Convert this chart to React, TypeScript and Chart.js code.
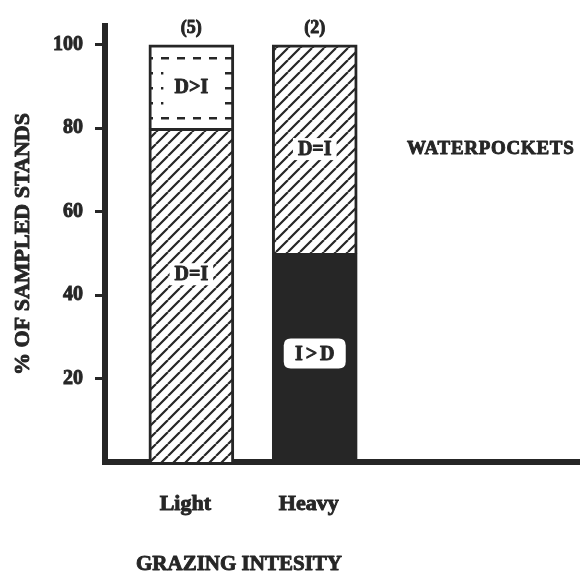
import { useEffect, useRef } from 'react';
import { Chart, registerables } from 'chart.js';

Chart.register(...registerables);

// ---- data ----
const categories = ['Light', 'Heavy'];
const iGreaterD = [0, 50];
const dEqualsI = [80, 50];
const dGreaterI = [20, 0];
const sampleCounts = [5, 2];
const yTicks = [20, 40, 60, 80, 100];
const panelLabel = 'WATERPOCKETS';
const xTitle = 'GRAZING INTESITY';
const yTitle = '% OF SAMPLED STANDS';
// value (in %) at which each segment's label sits
const iGreaterDLabelAt = [null, 26];
const dEqualsILabelAt = [45, 75];
const dGreaterILabelAt = [90, null];

const INK = '#262626';
const SERIF = '"Liberation Serif", "Times New Roman", serif';
const STROKE = 0.9;

function makeHatch(ctx: CanvasRenderingContext2D) {
  const s = 12;
  const c = document.createElement('canvas');
  c.width = s;
  c.height = s;
  const g = c.getContext('2d')!;
  g.fillStyle = '#fff';
  g.fillRect(0, 0, s, s);
  g.strokeStyle = INK;
  g.lineWidth = 2.2;
  g.beginPath();
  for (const k of [-s, 0, s]) {
    g.moveTo(k, s);
    g.lineTo(k + s, 0);
  }
  g.stroke();
  return ctx.createPattern(c, 'repeat')!;
}

function makeDash(ctx: CanvasRenderingContext2D) {
  const c = document.createElement('canvas');
  c.width = 16;
  c.height = 15;
  const g = c.getContext('2d')!;
  g.fillStyle = '#fff';
  g.fillRect(0, 0, 16, 15);
  g.fillStyle = INK;
  g.fillRect(1, 12, 8, 2.5);
  return ctx.createPattern(c, 'repeat')!;
}

function toPoints(vals: number[]) {
  return vals
    .map((v, i) => (v ? { x: i + 1, y: v } : null))
    .filter((p) => p !== null) as { x: number; y: number }[];
}

function roundRect(ctx: CanvasRenderingContext2D, x: number, y: number, w: number, h: number, r: number) {
  ctx.beginPath();
  ctx.moveTo(x + r, y);
  ctx.lineTo(x + w - r, y);
  ctx.quadraticCurveTo(x + w, y, x + w, y + r);
  ctx.lineTo(x + w, y + h - r);
  ctx.quadraticCurveTo(x + w, y + h, x + w - r, y + h);
  ctx.lineTo(x + r, y + h);
  ctx.quadraticCurveTo(x, y + h, x, y + h - r);
  ctx.lineTo(x, y + r);
  ctx.quadraticCurveTo(x, y, x + r, y);
  ctx.closePath();
}

function boldText(ctx: CanvasRenderingContext2D, t: string, x: number, y: number) {
  ctx.fillStyle = INK;
  ctx.strokeStyle = INK;
  ctx.lineWidth = STROKE;
  ctx.lineJoin = 'round';
  ctx.fillText(t, x, y);
  ctx.strokeText(t, x, y);
}

const annotate = {
  id: 'annotate',
  afterDatasetsDraw(chart: any) {
    const ctx: CanvasRenderingContext2D = chart.ctx;
    const xs = chart.scales.x;
    const ys = chart.scales.y;
    ctx.save();
    ctx.textAlign = 'center';
    ctx.textBaseline = 'middle';
    categories.forEach((_, i) => {
      const cx = xs.getPixelForValue(i + 1);
      ctx.font = `bold 20px ${SERIF}`;
      const a = dGreaterILabelAt[i];
      if (a !== null) {
        const cy = ys.getPixelForValue(a);
        ctx.fillStyle = '#fff';
        ctx.fillRect(cx - 28, cy - 23, 56, 44);
        boldText(ctx, 'D>I', cx, cy + 1);
      }
      const b = dEqualsILabelAt[i];
      if (b !== null) {
        const cy = ys.getPixelForValue(b);
        const w = ctx.measureText('D=I').width + 10;
        ctx.fillStyle = '#fff';
        ctx.fillRect(cx - w / 2, cy - 11, w, 22);
        boldText(ctx, 'D=I', cx, cy + 1);
      }
      const c = iGreaterDLabelAt[i];
      if (c !== null) {
        const cy = ys.getPixelForValue(c);
        ctx.fillStyle = '#fff';
        roundRect(ctx, cx - 31, cy - 15, 62, 30, 7);
        ctx.fill();
        (ctx as any).letterSpacing = '3px';
        boldText(ctx, 'I>D', cx + 1.5, cy + 1);
        (ctx as any).letterSpacing = '0px';
      }
      // sample counts
      ctx.font = `bold 18px ${SERIF}`;
      boldText(ctx, `(${sampleCounts[i]})`, cx, ys.getPixelForValue(100) - 16);
    });
    ctx.restore();
  },
  afterDraw(chart: any) {
    const ctx: CanvasRenderingContext2D = chart.ctx;
    const area = chart.chartArea;
    const ys = chart.scales.y;
    ctx.save();
    ctx.textBaseline = 'middle';
    // panel label
    ctx.textAlign = 'left';
    ctx.font = `bold 19px ${SERIF}`;
    (ctx as any).letterSpacing = '0.7px';
    boldText(ctx, panelLabel, area.left + 302, ys.getPixelForValue(75));
    (ctx as any).letterSpacing = '0px';
    // x title
    ctx.textAlign = 'center';
    ctx.font = `bold 21px ${SERIF}`;
    boldText(ctx, xTitle, area.left + 134, area.bottom + 103);
    // y title
    ctx.translate(23, (area.top + area.bottom) / 2);
    ctx.rotate(-Math.PI / 2);
    ctx.font = `bold 22px ${SERIF}`;
    boldText(ctx, yTitle, 0, 0);
    ctx.restore();
  },
};

export default function App() {
  const ref = useRef<HTMLCanvasElement>(null);
  useEffect(() => {
    document.body.style.margin = '0';
    const canvas = ref.current!;
    const ctx = canvas.getContext('2d')!;
    const hatch = makeHatch(ctx);
    const dash = makeDash(ctx);
    const common = {
      stack: 'all',
      borderColor: INK,
      borderWidth: { top: 3, left: 3, right: 3, bottom: 0 },
      borderSkipped: false,
      barThickness: 85,
    };
    const chart = new Chart(canvas, {
      type: 'bar',
      data: {
        datasets: [
          { label: 'I>D', data: toPoints(iGreaterD), backgroundColor: INK, ...common },
          { label: 'D=I', data: toPoints(dEqualsI), backgroundColor: hatch, ...common },
          { label: 'D>I', data: toPoints(dGreaterI), backgroundColor: dash, ...common },
        ] as any,
      },
      options: {
        responsive: false,
        animation: false,
        devicePixelRatio: 1,
        layout: { padding: { top: 26, left: 0, right: 0, bottom: 0 } },
        plugins: {
          legend: { display: false },
          tooltip: { enabled: false },
        },
        scales: {
          x: {
            type: 'linear',
            offset: false,
            min: 0.3,
            max: 4.15,
            z: 1,
            grid: { display: false, drawTicks: false, offset: false },
            border: { display: true, color: INK, width: 6 },
            afterBuildTicks: (s: any) => {
              s.ticks = categories.map((_, i) => ({ value: i + 1 }));
            },
            afterFit: (s: any) => {
              s.height = 114;
            },
            ticks: {
              callback: (v: any) => categories[Number(v) - 1] ?? '',
              font: { family: SERIF, size: 22, weight: 'bold' },
              color: INK,
              textStrokeColor: INK,
              textStrokeWidth: STROKE,
              padding: 29,
              labelOffset: -6,
              autoSkip: false,
              maxRotation: 0,
            },
          },
          y: {
            stacked: true,
            min: 0,
            max: 104.5,
            z: 1,
            grid: {
              display: true,
              drawOnChartArea: false,
              drawTicks: true,
              tickLength: 10,
              lineWidth: 3,
              color: INK,
            },
            border: { display: true, color: INK, width: 6 },
            afterBuildTicks: (s: any) => {
              s.ticks = yTicks.map((v) => ({ value: v }));
            },
            afterFit: (s: any) => {
              s.width = 105;
            },
            ticks: {
              font: { family: SERIF, size: 20, weight: 'bold' },
              color: INK,
              textStrokeColor: INK,
              textStrokeWidth: STROKE,
              padding: 12,
            },
          },
        } as any,
      },
      plugins: [annotate],
    });
    return () => chart.destroy();
  }, []);
  return (
    <div style={{ width: 580, height: 576, background: '#fff' }}>
      <canvas ref={ref} width={580} height={576} style={{ display: 'block' }} />
    </div>
  );
}
